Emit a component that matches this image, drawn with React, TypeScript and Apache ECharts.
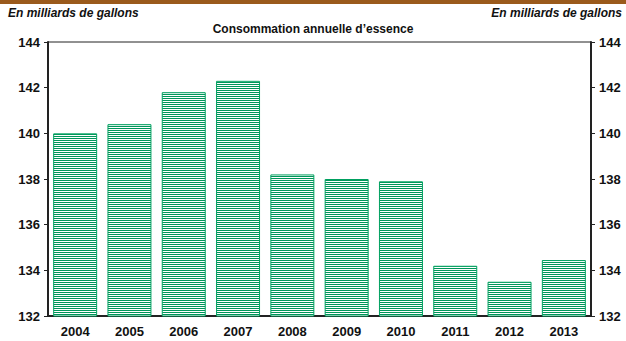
import React, { useEffect, useRef } from "react";
import * as echarts from "echarts";

const categories = ["2004", "2005", "2006", "2007", "2008", "2009", "2010", "2011", "2012", "2013"];
const consumption = [140.0, 140.4, 141.8, 142.3, 138.2, 138.0, 137.9, 134.2, 133.5, 134.45];
const yTicks = { min: 132, max: 144, interval: 2 };
const unitLabel = "En milliards de gallons";
const titleText = "Consommation annuelle d\u2019essence";

function makePattern(): HTMLCanvasElement {
  const c = document.createElement("canvas");
  c.width = 4;
  c.height = 2;
  const ctx = c.getContext("2d")!;
  ctx.fillStyle = "#ffffff";
  ctx.fillRect(0, 0, 4, 2);
  ctx.fillStyle = "#00965a";
  ctx.fillRect(0, 0, 4, 1);
  return c;
}

export default function App() {
  const ref = useRef<HTMLDivElement>(null);
  useEffect(() => {
    if (!ref.current) return;
    const chart = echarts.init(ref.current, undefined, { renderer: "svg" });
    const font = "Arial, 'Liberation Sans', sans-serif";
    const yAxisBase = {
      type: "value" as const,
      min: yTicks.min,
      max: yTicks.max,
      interval: yTicks.interval,
      axisLine: { show: true, lineStyle: { color: "#222", width: 2 } },
      axisTick: { show: true, length: 4, lineStyle: { color: "#222", width: 1 } },
      splitLine: { show: false },
      axisLabel: { color: "#111", fontWeight: "bold" as const, fontSize: 13, fontFamily: font, margin: 8 },
    };
    chart.setOption({
      animation: false,
      grid: { left: 48, right: 35, top: 42, bottom: 25, show: true, borderColor: "#222", borderWidth: 1, backgroundColor: "transparent" },
      graphic: [
        { type: "rect", shape: { x: 0, y: 0, width: 626, height: 4 }, style: { fill: "#9a5a1c" } },
        { type: "text", left: 8, top: 7, style: { text: unitLabel, font: `italic bold 12px ${font}`, fill: "#111" } },
        { type: "text", right: 4, top: 7, style: { text: unitLabel, font: `italic bold 12px ${font}`, fill: "#111" } },
        { type: "text", left: "center", top: 23, style: { text: titleText, font: `bold 12px ${font}`, fill: "#111" } },
      ],
      xAxis: {
        type: "category",
        data: categories,
        axisLine: { show: true, lineStyle: { color: "#222", width: 2 } },
        axisTick: { show: false },
        axisLabel: { color: "#111", fontWeight: "bold", fontSize: 13, fontFamily: font, margin: 9 },
      },
      yAxis: [
        { ...yAxisBase, position: "left" },
        { ...yAxisBase, position: "right" },
      ],
      series: [
        {
          type: "bar",
          data: consumption,
          barCategoryGap: "19%",
          itemStyle: {
            color: { image: makePattern(), repeat: "repeat" },
            borderColor: "#00a060",
            borderWidth: 1,
          },
        },
      ],
    });
    return () => chart.dispose();
  }, []);
  return <div ref={ref} style={{ width: 626, height: 341, position: "absolute", left: 0, top: 0 }} />;
}
